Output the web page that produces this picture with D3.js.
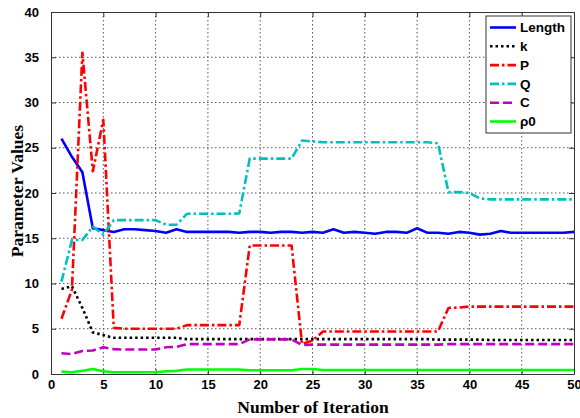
<!DOCTYPE html>
<html><head><meta charset="utf-8">
<script src="https://cdn.jsdelivr.net/npm/d3@7"></script>
<style>body{margin:0;background:#fff}svg{display:block}</style>
</head><body>
<svg id="c" width="580" height="418"></svg>
<script>
const iterations = d3.range(1, 51);
const lengthVals = [26.0,24.0,22.3,16.1,15.9,15.7,16.0,16.0,15.9,15.8,15.6,16.0,15.7,15.7,15.7,15.7,15.7,15.6,15.7,15.7,15.6,15.7,15.7,15.6,15.7,15.6,16.0,15.6,15.7,15.6,15.5,15.7,15.7,15.6,16.1,15.6,15.6,15.5,15.7,15.6,15.4,15.5,15.8,15.6,15.6,15.6,15.6,15.6,15.6,15.7];
const kVals = [9.4,9.7,7.3,4.6,4.3,4.0,4.0,4.0,4.0,4.0,4.0,4.0,3.85,3.85,3.85,3.85,3.85,3.85,3.85,3.85,3.85,3.85,3.85,3.85,3.85,3.85,3.85,3.85,3.85,3.85,3.85,3.85,3.85,3.85,3.85,3.85,3.8,3.8,3.8,3.8,3.8,3.75,3.75,3.75,3.75,3.75,3.75,3.75,3.75,3.75];
const pVals = [6.1,9.3,35.5,22.4,28.1,5.1,5.0,5.0,5.0,5.0,5.0,5.0,5.4,5.4,5.4,5.4,5.4,5.4,14.2,14.2,14.2,14.2,14.2,3.3,3.7,4.7,4.7,4.7,4.7,4.7,4.7,4.7,4.7,4.7,4.7,4.7,4.7,7.3,7.35,7.45,7.45,7.45,7.45,7.45,7.45,7.45,7.45,7.45,7.45,7.45];
const qVals = [10.2,14.8,14.8,16.3,15.4,17.0,17.0,17.0,17.0,17.0,16.5,16.5,17.7,17.7,17.7,17.7,17.7,17.75,23.8,23.8,23.8,23.8,23.8,25.8,25.7,25.6,25.6,25.6,25.6,25.6,25.6,25.6,25.6,25.6,25.6,25.6,25.5,20.1,20.1,20.0,19.4,19.3,19.3,19.3,19.3,19.3,19.3,19.3,19.3,19.3];
const cVals = [2.3,2.2,2.55,2.6,2.95,2.75,2.7,2.7,2.7,2.7,2.95,3.0,3.3,3.3,3.3,3.3,3.3,3.3,3.83,3.83,3.83,3.83,3.83,3.2,3.25,3.25,3.25,3.25,3.25,3.25,3.25,3.25,3.25,3.25,3.25,3.25,3.25,3.3,3.3,3.3,3.3,3.3,3.3,3.3,3.3,3.3,3.3,3.3,3.3,3.3];
const rhoVals = [0.26,0.2,0.35,0.55,0.3,0.2,0.2,0.2,0.2,0.2,0.3,0.35,0.5,0.5,0.5,0.5,0.5,0.5,0.42,0.42,0.42,0.42,0.42,0.55,0.55,0.45,0.45,0.45,0.45,0.45,0.45,0.45,0.45,0.45,0.45,0.45,0.45,0.45,0.45,0.45,0.45,0.45,0.45,0.45,0.45,0.45,0.45,0.45,0.45,0.45];
const seriesNames = ["Length","k","P","Q","C","ρ0"];
const xTicks = [0,5,10,15,20,25,30,35,40,45,50];
const yTicks = [0,5,10,15,20,25,30,35,40];

const styles = [
  {color:"#0000ff", dash:null},
  {color:"#000000", dash:"2.5,3"},
  {color:"#ff0000", dash:"9,3,2.5,3"},
  {color:"#00bfbf", dash:"9,3,2.5,3"},
  {color:"#bf00bf", dash:"9,4"},
  {color:"#00ff00", dash:null}
];
const allVals = [lengthVals,kVals,pVals,qVals,cVals,rhoVals];

const svg = d3.select("#c");
const L=51, R=574, T=12, B=374;
const x = d3.scaleLinear().domain([0,50]).range([L,R]);
const y = d3.scaleLinear().domain([0,40]).range([B,T]);

// grid
const g = svg.append("g");
g.selectAll(".gx").data(xTicks.slice(1,-1)).enter().append("line")
  .attr("x1",d=>x(d)).attr("x2",d=>x(d)).attr("y1",T).attr("y2",B)
  .attr("stroke","#555").attr("stroke-width",1).attr("stroke-dasharray","1.5,2.5");
g.selectAll(".gy").data(yTicks.slice(1,-1)).enter().append("line")
  .attr("y1",d=>y(d)).attr("y2",d=>y(d)).attr("x1",L).attr("x2",R)
  .attr("stroke","#555").attr("stroke-width",1).attr("stroke-dasharray","1.5,2.5");

// axes
const xAxis = d3.axisBottom(x).tickValues(xTicks).tickSizeInner(-5).tickSizeOuter(0).tickPadding(10);
const yAxis = d3.axisLeft(y).tickValues(yTicks).tickSizeInner(-5).tickSizeOuter(0).tickPadding(10);
const ax = svg.append("g").attr("transform",`translate(0,${B})`).call(xAxis);
const ay = svg.append("g").attr("transform",`translate(${L},0)`).call(yAxis);
svg.append("g").attr("transform",`translate(0,${T})`).call(d3.axisTop(x).tickValues(xTicks).tickSizeInner(-5).tickSizeOuter(0).tickFormat(""));
svg.append("g").attr("transform",`translate(${R},0)`).call(d3.axisRight(y).tickValues(yTicks).tickSizeInner(-5).tickSizeOuter(0).tickFormat(""));
svg.selectAll(".domain").attr("stroke","#333");
svg.selectAll(".tick line").attr("stroke","#333");
[ax,ay].forEach(a=>a.selectAll("text").attr("font-family","'Liberation Sans',Arial,sans-serif").attr("font-weight","bold").attr("font-size","13px").attr("fill","#000"));
ax.selectAll("text").attr("dy","0.71em").attr("y",6);
ay.selectAll("text").attr("x",-12);

// lines
const line = d3.line().x((d,i)=>x(iterations[i])).y(d=>y(d));
const lg = svg.append("g");
allVals.forEach((vals,i)=>{
  lg.append("path").datum(vals).attr("d",line).attr("fill","none")
    .attr("stroke",styles[i].color).attr("stroke-width",2.6)
    .attr("stroke-dasharray",styles[i].dash)
    .attr("stroke-linejoin","round");
});

// legend
const leg = svg.append("g");
leg.append("rect").attr("x",486).attr("y",16).attr("width",85).attr("height",117)
  .attr("fill","#fff").attr("stroke","#333").attr("stroke-width",1);
seriesNames.forEach((n,i)=>{
  const cy = 27.5 + i*18.8;
  leg.append("line").attr("x1",490).attr("x2",516).attr("y1",cy).attr("y2",cy)
    .attr("stroke",styles[i].color).attr("stroke-width",2.6).attr("stroke-dasharray",styles[i].dash);
  leg.append("text").attr("x",520).attr("y",cy).attr("dy","0.35em")
    .attr("font-family","'Liberation Sans',Arial,sans-serif").attr("font-weight","bold").attr("font-size","13.5px").text(n);
});

// axis labels
svg.append("text").attr("x",313).attr("y",413).attr("text-anchor","middle")
  .attr("font-family","'Liberation Serif','Times New Roman',serif").attr("font-weight","bold").attr("font-size","17.5px").text("Number of Iteration");
svg.append("text").attr("transform","translate(23,191) rotate(-90)").attr("text-anchor","middle")
  .attr("font-family","'Liberation Serif','Times New Roman',serif").attr("font-weight","bold").attr("font-size","17.5px").text("Parameter Values");
</script>
</body></html>
